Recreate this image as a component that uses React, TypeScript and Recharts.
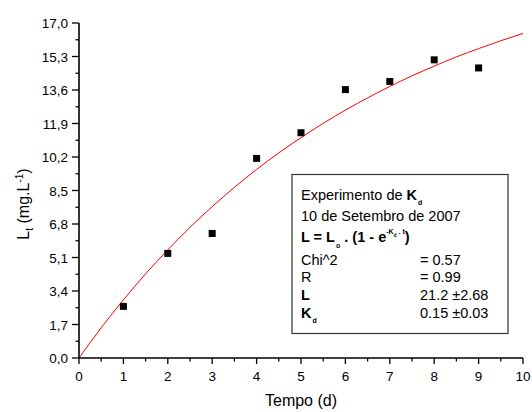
import React from 'react';
import { ComposedChart, Line, Scatter, XAxis, YAxis, Customized } from 'recharts';

// Measured points (Tempo in days, Lt in mg/L)
const days = [1, 2, 3, 4, 5, 6, 7, 8, 9];
const measured = [2.62, 5.31, 6.32, 10.13, 11.43, 13.62, 14.03, 15.13, 14.72];

// Fitted curve
const fitTime = [0, 0.5, 1, 1.5, 2, 2.5, 3, 3.5, 4, 4.5, 5, 5.5, 6, 6.5, 7, 7.5, 8, 8.5, 9, 9.5, 10];
const fitValue = [0, 1.53, 2.95, 4.27, 5.49, 6.63, 7.68, 8.66, 9.57, 10.41, 11.18, 11.91, 12.58, 13.2, 13.78, 14.32, 14.81, 15.28, 15.7, 16.1, 16.47];

// Axis ticks (majors labelled, minors blank)
const xTicks = [0, 0.5, 1, 1.5, 2, 2.5, 3, 3.5, 4, 4.5, 5, 5.5, 6, 6.5, 7, 7.5, 8, 8.5, 9, 9.5, 10];
const xTickLabels = ['0', '', '1', '', '2', '', '3', '', '4', '', '5', '', '6', '', '7', '', '8', '', '9', '', '10'];
const yTicks = [0, 0.85, 1.7, 2.55, 3.4, 4.25, 5.1, 5.95, 6.8, 7.65, 8.5, 9.35, 10.2, 11.05, 11.9, 12.75, 13.6, 14.45, 15.3, 16.15, 17];
const yTickLabels = ['0,0', '', '1,7', '', '3,4', '', '5,1', '', '6,8', '', '8,5', '', '10,2', '', '11,9', '', '13,6', '', '15,3', '', '17,0'];

const FONT = '"Liberation Sans", Arial, sans-serif';

const curveData = fitTime.map((t, i) => ({ t, fit: fitValue[i] }));
const pointData = days.map((t, i) => ({ t, v: measured[i] }));

const XTick = (props: any) => {
  const { x, y, index } = props;
  const label = xTickLabels[index] ?? '';
  const major = label !== '';
  return (
    <g>
      <line x1={x} x2={x} y1={y} y2={y + (major ? 6 : 3.5)} stroke="#000" strokeWidth={1.3} />
      {major && (
        <text x={x} y={y + 23} textAnchor="middle" fontSize={13.5} fontFamily={FONT} fill="#000">
          {label}
        </text>
      )}
    </g>
  );
};

const YTick = (props: any) => {
  const { x, y, index } = props;
  const label = yTickLabels[index] ?? '';
  const major = label !== '';
  return (
    <g>
      <line x1={x - (major ? 7 : 3.5)} x2={x} y1={y} y2={y} stroke="#000" strokeWidth={1.3} />
      {major && (
        <text x={x - 11} y={y + 5} textAnchor="end" fontSize={13.5} fontFamily={FONT} fill="#000">
          {label}
        </text>
      )}
    </g>
  );
};

const SquareDot = (props: any) => {
  const { cx, cy } = props;
  return <rect x={cx - 3.5} y={cy - 3.5} width={7} height={7} fill="#000" />;
};

const Annotations = () => {
  const fs = 14.5;
  const tx = 301;
  const vx = 420;
  return (
    <g fontFamily={FONT} fill="#000">
      {/* Y axis title */}
      <text transform="translate(29,204) rotate(-90)" textAnchor="middle" fontSize={16}>
        <tspan>L</tspan>
        <tspan fontSize={10} dy={4}>t</tspan>
        <tspan dy={-4}> (mg.L</tspan>
        <tspan fontSize={10} dy={-6}>-1</tspan>
        <tspan dy={6}>)</tspan>
      </text>
      {/* X axis title */}
      <text x={301} y={406} textAnchor="middle" fontSize={16}>Tempo (d)</text>

      {/* Fit info box */}
      <rect x={292} y={174.5} width={216} height={159} fill="#fff" stroke="#333" strokeWidth={1.2} />
      <text x={tx} y={200} fontSize={fs}>
        <tspan>Experimento de </tspan>
        <tspan fontWeight="bold">K</tspan>
        <tspan fontWeight="bold" fontSize={7} dx={1} dy={5}>d</tspan>
      </text>
      <text x={tx} y={221} fontSize={fs}>10 de Setembro de 2007</text>
      <text x={tx} y={242} fontSize={fs} fontWeight="bold">
        <tspan>L = L</tspan>
        <tspan fontSize={7} dx={1} dy={6}>o</tspan>
        <tspan dy={-6}> . (1 - e</tspan>
        <tspan fontSize={7} dy={-8}>-K</tspan>
        <tspan fontSize={5} dy={3}>d</tspan>
        <tspan fontSize={7} dy={-3}> . t</tspan>
        <tspan dy={8}>)</tspan>
      </text>
      <text x={tx} y={264.5} fontSize={fs}>Chi^2</text>
      <text x={vx} y={264.5} fontSize={fs}>= 0.57</text>
      <text x={tx} y={282} fontSize={fs}>R</text>
      <text x={vx} y={282} fontSize={fs}>= 0.99</text>
      <text x={tx} y={300} fontSize={fs} fontWeight="bold">L</text>
      <text x={vx} y={300} fontSize={fs}>21.2 ±2.68</text>
      <text x={tx} y={318} fontSize={fs}>
        <tspan fontWeight="bold">K</tspan>
        <tspan fontWeight="bold" fontSize={7} dx={1} dy={5}>d</tspan>
      </text>
      <text x={vx} y={318} fontSize={fs}>0.15 ±0.03</text>
    </g>
  );
};

export default function App() {
  return (
    <div style={{ position: 'absolute', left: 0, top: 0, width: 532, height: 412, background: '#fff' }}>
      <ComposedChart
        width={532}
        height={412}
        data={curveData}
        margin={{ top: 23, right: 9, bottom: 0, left: 0 }}
      >
        <XAxis
          dataKey="t"
          type="number"
          domain={[0, 10]}
          ticks={xTicks}
          interval={0}
          allowDataOverflow
          height={54}
          tickSize={0}
          tickMargin={0}
          tickLine={false}
          axisLine={{ stroke: '#000', strokeWidth: 1.6 }}
          tick={<XTick />}
        />
        <YAxis
          type="number"
          domain={[0, 17]}
          ticks={yTicks}
          interval={0}
          allowDataOverflow
          width={79}
          tickSize={0}
          tickMargin={0}
          tickLine={false}
          axisLine={{ stroke: '#000', strokeWidth: 1.6 }}
          tick={<YTick />}
        />
        <Line
          dataKey="fit"
          type="monotone"
          stroke="#ff0000"
          strokeWidth={1}
          dot={false}
          activeDot={false}
          isAnimationActive={false}
        />
        <Scatter data={pointData} dataKey="v" shape={<SquareDot />} isAnimationActive={false} />
        <Customized component={Annotations} />
      </ComposedChart>
    </div>
  );
}
